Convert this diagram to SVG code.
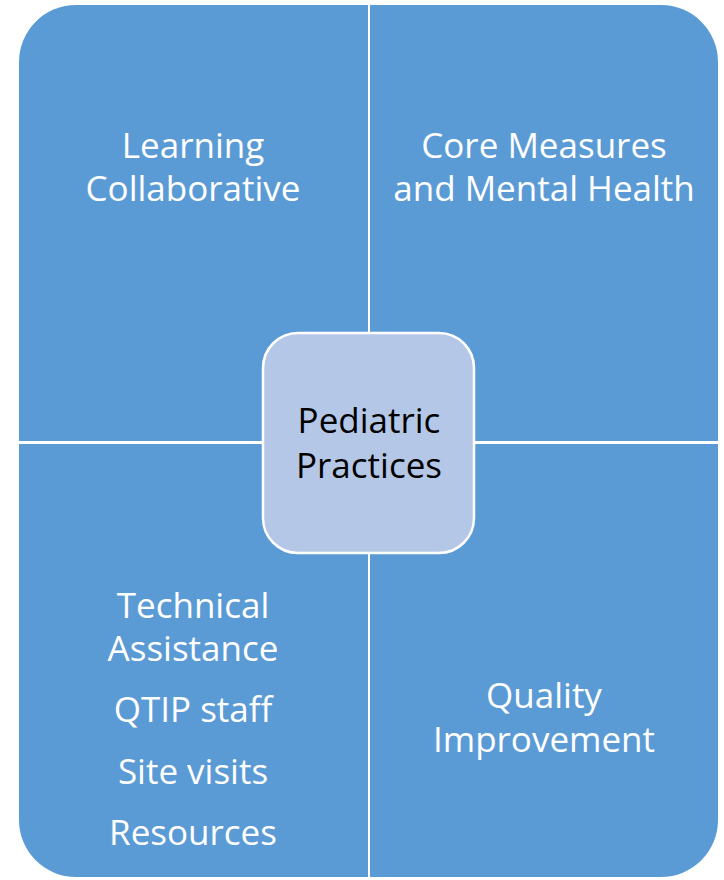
<svg xmlns="http://www.w3.org/2000/svg" width="724" height="880" viewBox="0 0 724 880">
<style>
.q{fill:#5B9BD5;}
.t{font-family:"Open Sans","Liberation Sans",sans-serif;font-size:35px;fill:#FFFFFF;text-anchor:middle;}
.c{font-family:"Open Sans","Liberation Sans",sans-serif;font-size:35px;fill:#000000;text-anchor:middle;}
</style>
<rect width="724" height="880" fill="#FFFFFF"/>
<g id="learning-collaborative">
<path class="q" d="M19,441 V62 A57,57 0 0 1 76,5 H368 V441 Z"/>
<text class="t" x="193" y="158">Learning</text>
<text class="t" x="193" y="201">Collaborative</text>
</g>
<g id="core-measures">
<path class="q" d="M370,5 H661 A57,57 0 0 1 718,62 V441 H370 Z"/>
<text class="t" x="544" y="158">Core Measures</text>
<text class="t" x="544" y="201">and Mental Health</text>
</g>
<g id="technical-assistance">
<path class="q" d="M19,444 H368 V877 H76 A57,57 0 0 1 19,820 Z"/>
<text class="t" x="193" y="618">Technical</text>
<text class="t" x="193" y="661">Assistance</text>
<text class="t" x="193" y="722">QTIP staff</text>
<text class="t" x="193" y="784">Site visits</text>
<text class="t" x="193" y="845">Resources</text>
</g>
<g id="quality-improvement">
<path class="q" d="M370,444 H718 V820 A57,57 0 0 1 661,877 H370 Z"/>
<text class="t" x="544" y="708">Quality</text>
<text class="t" x="544" y="752">Improvement</text>
</g>
<g id="pediatric-practices">
<rect x="263" y="333" width="211" height="220" rx="35" ry="35" fill="#B4C7E7" stroke="#FFFFFF" stroke-width="2.5"/>
<text class="c" x="369" y="433">Pediatric</text>
<text class="c" x="369" y="478">Practices</text>
</g>
<g id="connectors"></g>
</svg>
